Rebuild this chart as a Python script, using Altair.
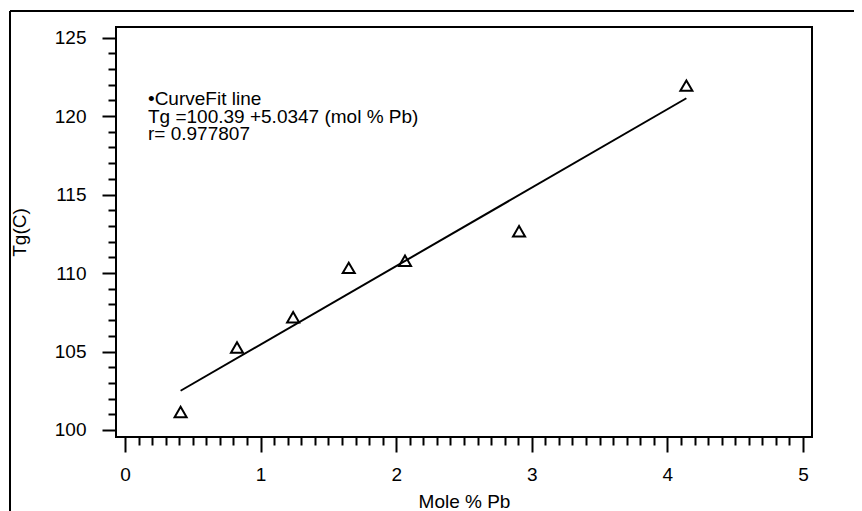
import altair as alt
import pandas as pd

# Data
mole_pb = [0.41, 0.826, 1.24, 1.65, 2.065, 2.906, 4.14]
tg = [101.15, 105.26, 107.18, 110.33, 110.78, 112.66, 121.94]

x_major = [0, 1, 2, 3, 4, 5]
x_minor = [round(i * 0.1, 1) for i in range(51) if i % 10]
y_major = [100, 105, 110, 115, 120, 125]
y_minor = [v for v in range(100, 126) if v % 5]

annotation = ["\u2022CurveFit line", "Tg =100.39 +5.0347 (mol % Pb)", "r= 0.977807"]

FONT = "Liberation Sans"

df = pd.DataFrame({"x": mole_pb, "y": tg})

xs = alt.Scale(domain=[-0.0664, 5.0664], nice=False, zero=False)
ys = alt.Scale(domain=[99.554, 125.675], nice=False, zero=False)

x_axis_major = alt.Axis(values=x_major, format="d", orient="bottom", tickSize=15,
                        tickWidth=2, tickColor="black", labelPadding=13, domain=False,
                        grid=False, labelFontSize=19, labelFont=FONT, labelColor="black",
                        title="Mole % Pb", titleFontSize=19, titleFont=FONT,
                        titleFontWeight="normal", titleColor="black", titlePadding=8)
y_axis_major = alt.Axis(values=y_major, format="d", orient="left", tickSize=14,
                        tickWidth=2, tickColor="black", labelPadding=16, domain=False,
                        grid=False, labelFontSize=19, labelFont=FONT, labelColor="black",
                        title="Tg(C)", titleFontSize=19, titleFont=FONT,
                        titleFontWeight="normal", titleColor="black", titlePadding=25)
x_axis_minor = alt.Axis(values=x_minor, orient="bottom", tickSize=8, tickWidth=2,
                        tickColor="black", labels=False, domain=False, grid=False, title=None)
y_axis_minor = alt.Axis(values=y_minor, orient="left", tickSize=8, tickWidth=2,
                        tickColor="black", labels=False, domain=False, grid=False, title=None)

base = alt.Chart(df)

points = base.mark_point(shape="triangle-up", filled=False, size=145, strokeWidth=2,
                         color="black", opacity=1).encode(
    x=alt.X("x:Q", scale=xs, axis=x_axis_major),
    y=alt.Y("y:Q", scale=ys, axis=y_axis_major),
)

fit = base.transform_regression("x", "y").mark_line(color="black", strokeWidth=2).encode(
    x=alt.X("x:Q", scale=xs, axis=x_axis_minor),
    y=alt.Y("y:Q", scale=ys, axis=y_axis_minor),
)

dummy = alt.Chart(pd.DataFrame({"d": [0]}))

text = dummy.mark_text(align="left", baseline="alphabetic", fontSize=19, font=FONT,
                       lineHeight=17.5, color="black").encode(
    x=alt.value(32), y=alt.value(78), text=alt.value(annotation))

frame_top = dummy.mark_rule(color="black", strokeWidth=2).encode(
    x=alt.value(-106), x2=alt.value(760), y=alt.value(-16))
frame_left = dummy.mark_rule(color="black", strokeWidth=2).encode(
    x=alt.value(-106), y=alt.value(-16), y2=alt.value(500))

chart = alt.layer(points, fit, text, frame_top, frame_left).resolve_axis(
    x="independent", y="independent"
).properties(
    width=696, height=410,
    autosize=alt.AutoSizeParams(type="none"),
    padding={"left": 108, "top": 19, "right": 42, "bottom": 74},
).configure(
    background="white",
    view=alt.ViewConfig(stroke="black", strokeWidth=2),
)

chart.save("out.html", embed_options={"renderer": "svg", "actions": False})
